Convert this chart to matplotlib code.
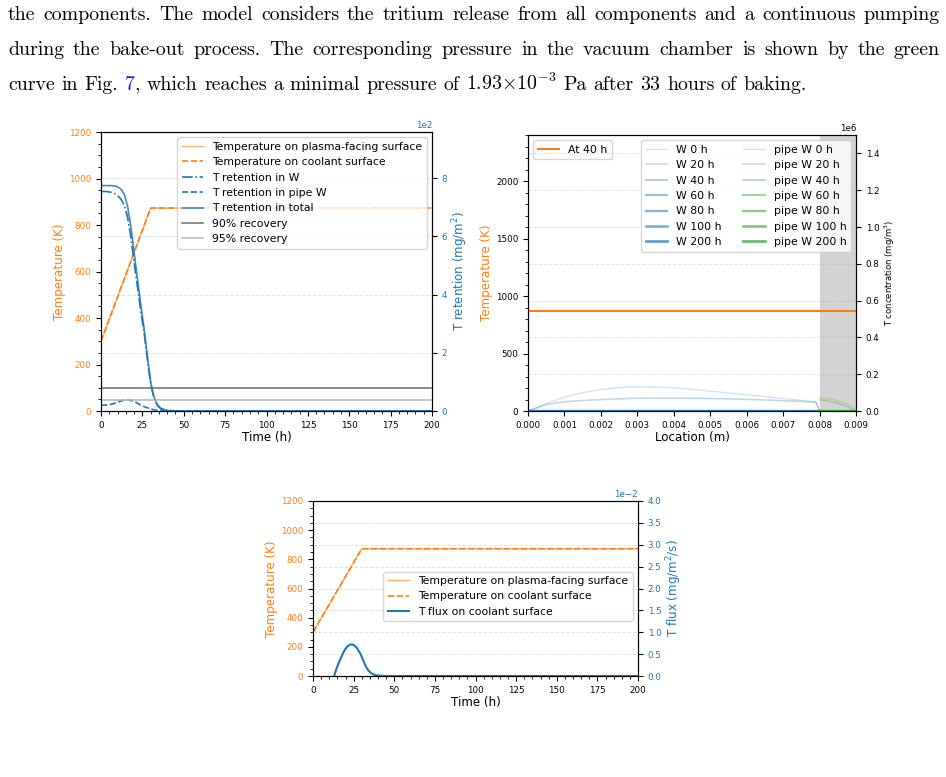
import matplotlib
matplotlib.use('Agg')
import matplotlib.pyplot as plt
import numpy as np
from matplotlib.ticker import AutoMinorLocator

W_PX, H_PX = 946, 777

# ---------------- page text above the figure ----------------
page_lines = [
    "the components. The model considers the tritium release from all components and a continuous pumping",
    "during the bake-out process. The corresponding pressure in the vacuum chamber is shown by the green",
    "curve in Fig. 7, which reaches a minimal pressure of $1.93{\\times}10^{-3}$ Pa after 33 hours of baking.",
]
LINK = '#1010f0'
link_words = {"7,": [("7", LINK), (",", "black")]}

# ---------------- panel 1: bake-out retention ----------------
temp_time = [0, 30, 200]
temp_pf = [300, 873, 873]
temp_cool = [300, 873, 873]

ret_time = [0, 2, 4, 6, 8, 10, 12, 14, 16, 18, 20, 22, 24, 26, 28, 30, 32, 34, 36, 38, 40, 45, 50, 200]
ret_w = [754, 754, 753, 751, 747, 740, 728, 708, 667, 599, 512, 428, 345, 270, 179, 93, 44, 19.5, 8.5, 4.2, 1.6, 0.3, 0, 0]
ret_pipe = [20, 20, 21, 23, 26, 30, 34, 37, 38, 36, 33, 27, 20, 15, 11, 7, 4, 2.5, 1.5, 0.8, 0.4, 0, 0, 0]
ret_total = [774, 774, 774, 774, 773, 770, 762, 745, 705, 635, 545, 455, 365, 285, 190, 100, 48, 22, 10, 5, 2, 0.3, 0, 0]

# ---------------- panel 2: concentration profiles ----------------
temp_loc = [0.0, 0.009]
temp_40h = [873, 873]

profile_hours = [0, 20, 40, 60, 80, 100, 200]
w_loc = [0.0, 0.0005, 0.001, 0.0015, 0.002, 0.0025, 0.003, 0.0035, 0.004, 0.0045,
         0.005, 0.0055, 0.006, 0.0065, 0.007, 0.0075, 0.0079, 0.008]
w_profiles = [
    [0, 40e3, 75e3, 100e3, 117e3, 127e3, 132e3, 131e3, 126e3, 118e3, 108e3, 98e3, 88e3, 78e3, 68e3, 58e3, 50e3, 0],
    [0, 35e3, 50e3, 57e3, 62e3, 66e3, 69e3, 70e3, 70e3, 69e3, 68e3, 66e3, 63e3, 60e3, 56e3, 52e3, 48e3, 0],
    [0, 600, 800, 900, 900, 900, 900, 900, 900, 900, 900, 900, 800, 800, 700, 600, 500, 0],
    [0, 50, 60, 60, 60, 60, 60, 60, 60, 60, 60, 60, 60, 60, 50, 40, 40, 0],
    [0, 5, 5, 5, 5, 5, 5, 5, 5, 5, 5, 5, 5, 5, 5, 5, 5, 0],
    [0, 0, 0, 0, 0, 0, 0, 0, 0, 0, 0, 0, 0, 0, 0, 0, 0, 0],
    [0, 0, 0, 0, 0, 0, 0, 0, 0, 0, 0, 0, 0, 0, 0, 0, 0, 0],
]
pipe_loc = [0.008, 0.0082, 0.0084, 0.0086, 0.0088, 0.009]
pipe_profiles = [
    [72e3, 68e3, 61e3, 50e3, 34e3, 8e3],
    [60e3, 55e3, 47e3, 36e3, 20e3, 0],
    [1000, 900, 800, 600, 300, 0],
    [80, 70, 60, 40, 20, 0],
    [5, 5, 4, 3, 1, 0],
    [0, 0, 0, 0, 0, 0],
    [0, 0, 0, 0, 0, 0],
]

# ---------------- panel 3: flux on coolant surface ----------------
flux_time = [13, 14, 15, 16, 17, 18, 19, 20, 21, 22, 23, 24, 25, 26, 27, 28, 29, 30,
             31, 32, 33, 34, 35, 36, 38, 40, 45, 50, 200]
flux = [0.0, 0.0012, 0.0022, 0.0032, 0.0040, 0.0048, 0.0056, 0.0062, 0.0067, 0.0070,
        0.0072, 0.0072, 0.0071, 0.0068, 0.0064, 0.0058, 0.0052, 0.0044, 0.0035, 0.0026,
        0.0019, 0.0013, 0.0009, 0.0006, 0.00025, 0.0001, 0.00001, 0.0, 0.0]

TICK = 6.3
LABEL = 8.6
LEG = 7.8
BODY = 14.3
ORANGE = 'tab:orange'
BLUE = 'tab:blue'

fig = plt.figure(figsize=(W_PX / 100, H_PX / 100), dpi=100)


def axes_px(left, top, right, bottom):
    return fig.add_axes([left / W_PX, 1 - bottom / H_PX,
                         (right - left) / W_PX, (bottom - top) / H_PX])


def place_line(line, y_px, justify, left=8, right=940):
    renderer = fig.canvas.get_renderer()
    words = []
    for w in line.split(' '):
        arts = []
        for s, c in link_words.get(w, [(w, 'black')]):
            t = fig.text(0, 1 - y_px / H_PX, s, color=c, fontsize=BODY, family='cmr10',
                         math_fontfamily='cm', va='baseline', ha='left')
            arts.append((t, t.get_window_extent(renderer).width))
        words.append(arts)
    widths = [sum(wd for _, wd in arts) for arts in words]
    if justify:
        gap = (right - left - sum(widths)) / (len(words) - 1)
    else:
        gap = 0.333 * BODY * 100 / 72
    x = left
    for arts, wd in zip(words, widths):
        for t, sw in arts:
            t.set_x(x / W_PX)
            x += sw
        x += gap


place_line(page_lines[0], 20.5, True)
place_line(page_lines[1], 55, True)
place_line(page_lines[2], 90, False)

# ---------- panel 1 ----------
ax1 = axes_px(101, 132, 432, 411)
ax1.plot(temp_time, temp_pf, color=ORANGE, lw=1.0, alpha=0.6, label='Temperature on plasma-facing surface')
ax1.plot(temp_time, temp_cool, color=ORANGE, lw=1.2, ls='--', label='Temperature on coolant surface')
ax1.set_xlim(0, 200)
ax1.set_ylim(0, 1200)
ax1.set_xticks(np.arange(0, 201, 25))
ax1.minorticks_on()
ax1.set_xlabel('Time (h)', fontsize=LABEL, labelpad=1)
ax1.set_ylabel('Temperature (K)', color=ORANGE, fontsize=LABEL, labelpad=2)
ax1.tick_params(axis='y', labelcolor=ORANGE, labelsize=TICK)
ax1.tick_params(axis='x', labelsize=TICK)

ax1b = ax1.twinx()
ax1b.plot(ret_time, ret_w, color=BLUE, ls='-.', lw=1.2, label='T retention in W')
ax1b.plot(ret_time, ret_pipe, color=BLUE, ls='--', lw=1.2, label='T retention in pipe W')
ax1b.plot(ret_time, ret_total, color=BLUE, ls='-', lw=1.2, alpha=0.85, label='T retention in total')
ax1b.axhline(0.10 * ret_total[0], color='#6e6e6e', lw=1.1, label='90% recovery')
ax1b.axhline(0.05 * ret_total[0], color='#b4b4b4', lw=1.1, label='95% recovery')
ax1b.set_ylim(0, 958)
ax1b.set_yticks(np.arange(0, 801, 200))
ax1b.ticklabel_format(axis='y', style='sci', scilimits=(0, 0))
ax1b.yaxis.get_offset_text().set_fontsize(TICK)
ax1b.yaxis.get_offset_text().set_color(BLUE)
ax1b.tick_params(axis='y', labelcolor=BLUE, labelsize=TICK)
ax1b.set_ylabel('T retention (mg/m$^2$)', color=BLUE, fontsize=LABEL, labelpad=2)
ax1b.grid(True, ls='--', alpha=0.35, lw=0.7)
h1, l1 = ax1.get_legend_handles_labels()
h2, l2 = ax1b.get_legend_handles_labels()
ax1b.legend(h1 + h2, l1 + l2, loc='upper right', fontsize=LEG)

# ---------- panel 2 ----------
ax2 = axes_px(528, 135, 856, 411)
ax2.axvspan(pipe_loc[0], pipe_loc[-1], color='#d3d3d3', zorder=0, lw=0)
ax2.plot(temp_loc, temp_40h, color=ORANGE, lw=1.5, label='At 40 h')
ax2.set_xlim(0, 0.009)
ax2.set_ylim(0, 2400)
ax2.set_xticks(np.arange(0, 0.0091, 0.001))
ax2.xaxis.set_major_formatter(matplotlib.ticker.FormatStrFormatter('%.3f'))
ax2.yaxis.set_minor_locator(AutoMinorLocator())
ax2.tick_params(labelsize=TICK)
ax2.set_xlabel('Location (m)', fontsize=LABEL, labelpad=1)
ax2.set_ylabel('Temperature (K)', color=ORANGE, fontsize=LABEL, labelpad=2)
ax2.legend(loc='upper left', fontsize=LEG)

ax2b = ax2.twinx()
n = len(profile_hours)
for i, (h, prof) in enumerate(zip(profile_hours, w_profiles)):
    ax2b.plot(w_loc, prof, color=BLUE, alpha=0.2 + 0.5 * i / (n - 1), lw=1.0 + i / (n - 1),
              label=f'W {h} h')
for i, (h, prof) in enumerate(zip(profile_hours, pipe_profiles)):
    ax2b.plot(pipe_loc, prof, color='tab:green', alpha=0.2 + 0.5 * i / (n - 1), lw=1.0 + i / (n - 1),
              label=f'pipe W {h} h')
ax2b.set_ylim(0, 1.5e6)
ax2b.set_yticks(np.arange(0, 1.41e6, 0.2e6))
ax2b.ticklabel_format(axis='y', style='sci', scilimits=(0, 0))
ax2b.yaxis.get_offset_text().set_fontsize(TICK)
ax2b.tick_params(axis='y', labelsize=TICK)
ax2b.set_ylabel('T concentration (mg/m$^3$)', fontsize=6.1, labelpad=2)
ax2b.grid(True, ls='--', alpha=0.35, lw=0.7)
ax2b.legend(loc='upper right', ncol=2, fontsize=LEG)

# ---------- panel 3 ----------
ax3 = axes_px(313, 501, 638, 676)
ax3.plot(temp_time, temp_pf, color=ORANGE, lw=1.0, alpha=0.6, label='Temperature on plasma-facing surface')
ax3.plot(temp_time, temp_cool, color=ORANGE, lw=1.2, ls='--', label='Temperature on coolant surface')
ax3.set_xlim(0, 200)
ax3.set_ylim(0, 1200)
ax3.set_xticks(np.arange(0, 201, 25))
ax3.minorticks_on()
ax3.set_xlabel('Time (h)', fontsize=LABEL, labelpad=1)
ax3.set_ylabel('Temperature (K)', color=ORANGE, fontsize=LABEL, labelpad=2)
ax3.tick_params(axis='y', labelcolor=ORANGE, labelsize=TICK)
ax3.tick_params(axis='x', labelsize=TICK)

ax3b = ax3.twinx()
ax3b.plot(flux_time, flux, color=BLUE, lw=1.5, label='T flux on coolant surface')
ax3b.set_ylim(0, 0.04)
ax3b.set_yticks(np.arange(0, 0.0401, 0.005))
ax3b.ticklabel_format(axis='y', style='sci', scilimits=(0, 0))
ax3b.yaxis.get_offset_text().set_fontsize(TICK)
ax3b.yaxis.get_offset_text().set_color(BLUE)
ax3b.tick_params(axis='y', labelcolor=BLUE, labelsize=TICK)
ax3b.set_ylabel('T flux (mg/m$^2$/s)', color=BLUE, fontsize=LABEL, labelpad=2)
ax3b.grid(True, ls='--', alpha=0.35, lw=0.7)
h1, l1 = ax3.get_legend_handles_labels()
h2, l2 = ax3b.get_legend_handles_labels()
ax3b.legend(h1 + h2, l1 + l2, loc='center right', bbox_to_anchor=(1, 0.455), fontsize=LEG)

fig.savefig('out.png', dpi=100)
